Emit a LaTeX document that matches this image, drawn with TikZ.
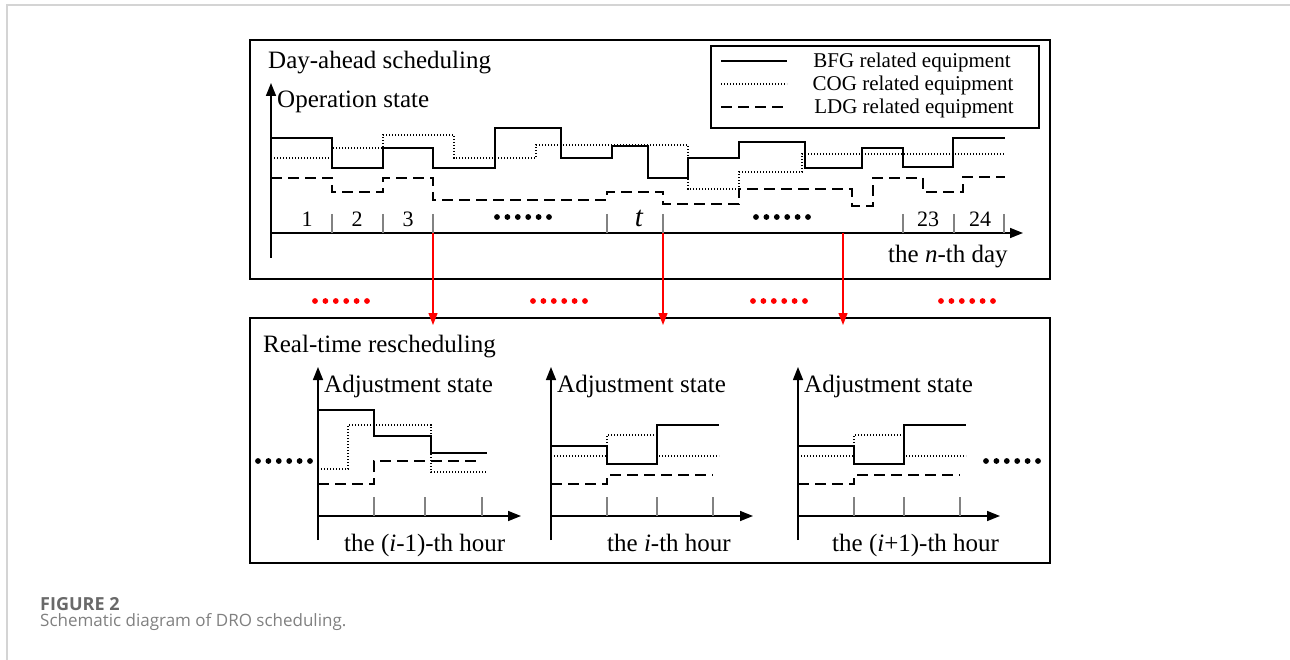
\documentclass[tikz,border=0pt]{standalone}
\usepackage{fontspec}
\setmainfont{Liberation Serif}
\newfontfamily\capfont{Open Sans}
\usepackage{tikz}
\usetikzlibrary{arrows.meta, positioning}

\definecolor{framegray}{RGB}{212,212,212}
\definecolor{tickgray}{RGB}{130,130,130}
\definecolor{capgray}{RGB}{105,105,105}

\begin{document}
\begin{tikzpicture}[x=1pt, y=-1pt,
    panel/.style={line width=1.4pt},
    bfg/.style={line width=1.3pt},
    cog/.style={line width=1.2pt, dash pattern=on 1.4pt off 1.6pt},
    ldg/.style={line width=1.2pt, dash pattern=on 11pt off 6pt},
    axis/.style={line width=1.5pt, -{Triangle[length=13pt,width=10pt]}},
    hourtick/.style={tickgray, line width=1.3pt},
    link/.style={red, line width=1.3pt, -{Triangle[length=12pt,width=9pt]}},
    lbl/.style={inner sep=0pt, anchor=base west, font=\fontsize{25}{30}\selectfont},
    legtext/.style={inner sep=0pt, anchor=base, font=\fontsize{21}{25}\selectfont},
    hour/.style={inner sep=0pt, anchor=base, font=\fontsize{22}{26}\selectfont}]
  \useasboundingbox (0,0) rectangle (1290,660);

  % page frame
  \draw[framegray, line width=2pt] (7,660) -- (7,5) -- (1290,5);

  %---- day-ahead ----
  \draw[panel] (250,40) rectangle (1050,279);
  \node[lbl] (dayahead) at (268,69) {Day-ahead scheduling};

  % legend
  \draw[line width=1.3pt] (711,46) rectangle (1039,128);
  \draw[bfg] (721,61) -- (787,61);
  \draw[cog] (721,84) -- (787,84);
  \draw[ldg] (721,107) -- (787,107);
  \node[legtext] (legbfg) at (912,68) {BFG related equipment};
  \node[legtext] (legcog) at (913,91) {COG related equipment};
  \node[legtext] (legldg) at (914,114) {LDG related equipment};

  % axes
  \draw[axis] (271,258) -- (271,83);
  \draw[axis] (271,233) -- (1023,233);
  \node[lbl] (opstate) at (277,108) {Operation state};
  \node[lbl] (nday) at (888,263) {the \textit{n}-th day};

  % hour ticks
  \foreach \tx in {332,383,433,607,663,903,954,1004}
    \draw[hourtick] (\tx,214) -- (\tx,233);
  \node[hour] (h1) at (307,227) {1};
  \node[hour] (h2) at (357,227) {2};
  \node[hour] (h3) at (408,227) {3};
  \node[hour, font=\fontsize{29}{32}\selectfont\itshape] (ht) at (639,227) {t};
  \node[hour] (h23) at (928,227) {23};
  \node[hour] (h24) at (980,227) {24};

  % day-ahead states
  \draw[bfg] (271,138) -| (332,168) -| (383,148) -| (433,168) -| (495,128)
    -| (561,158) -| (612,146) -| (648,178) -| (688,158) -| (739,142)
    -| (805,168) -| (862,148) -| (903,167) -| (953,138) -- (1005,138);
  \draw[cog] (271,158) -| (332,148) -| (383,135) -| (454,158) -| (536,145)
    -| (688,189) -| (739,172) -| (802,154) -- (1005,154);
  \draw[ldg] (271,178) -| (332,192) -| (383,178) -| (433,200) -| (607,192)
    -| (663,204) -| (739,189) -| (852,206) -| (873,178) -| (923,192)
    -| (963,177) -- (1005,177);

  % ellipsis dots
  \foreach \cx/\cy/\cc in {497/217/black, 756/217/black,
      315/301/red, 533/301/red, 753/301/red, 941/301/red,
      258/461/black, 986/461/black}{
    \foreach \k in {0,...,5}
      \fill[\cc] (\cx+\k*10.4,\cy) circle (2.9);
  }

  %---- real-time ----
  \draw[panel] (250,318) rectangle (1050,563);
  \node[lbl] (realtime) at (263,352) {Real-time rescheduling};

  % day-ahead to real-time
  \coordinate (da3) at (433,233);
  \coordinate (dat) at (663,233);
  \coordinate (dan) at (843,233);
  \coordinate (rt1) at (433,325);
  \coordinate (rt2) at (663,325);
  \coordinate (rt3) at (843,325);
  \draw[link] (da3) -- (rt1);
  \draw[link] (dat) -- (rt2);
  \draw[link] (dan) -- (rt3);

  % hour i-1
  \draw[axis] (318,540) -- (318,367);
  \draw[axis] (318,516) -- (521,516);
  \foreach \tx in {374,425,482}
    \draw[hourtick] (\tx,497) -- (\tx,516);
  \node[lbl] (adjprev) at (324,392) {Adjustment state};
  \node[lbl] (hprev) at (344,551) {the (\textit{i}-1)-th hour};
  \draw[bfg] (318,410) -| (374,436) -| (431,453) -- (487,453);
  \draw[cog] (318,469) -| (348,425) -| (431,472) -- (487,472);
  \draw[ldg] (318,484) -| (374,461) -- (482,461);

  % hours i and i+1
  \foreach \dx/\nm in {0/cur, 247/next}{
    \begin{scope}[xshift=\dx]
      \draw[axis] (551,540) -- (551,367);
      \draw[axis] (551,516) -- (753,516);
      \foreach \tx in {607,657,713}
        \draw[hourtick] (\tx,497) -- (\tx,516);
      \node[lbl] (adj\nm) at (557,392) {Adjustment state};
      \draw[bfg] (551,446) -| (607,464) -| (657,425) -- (719,425);
      \draw[cog] (551,456) -| (607,435) -| (657,456) -- (719,456);
      \draw[ldg] (551,484) -| (607,475) -- (713,475);
    \end{scope}
  }
  \node[lbl] (hcur) at (607,551) {the \textit{i}-th hour};
  \node[lbl] (hnext) at (832,551) {the (\textit{i}+1)-th hour};

  % caption
  \node[inner sep=0pt, anchor=base west, capgray,
    font=\capfont\bfseries\fontsize{18}{21}\selectfont] (fig) at (40,610) {FIGURE 2};
  \node[inner sep=0pt, anchor=base west, capgray!85,
    font=\capfont\fontsize{17}{20}\selectfont] (cap) at (40,626)
    {Schematic diagram of DRO scheduling.};
\end{tikzpicture}
\end{document}
